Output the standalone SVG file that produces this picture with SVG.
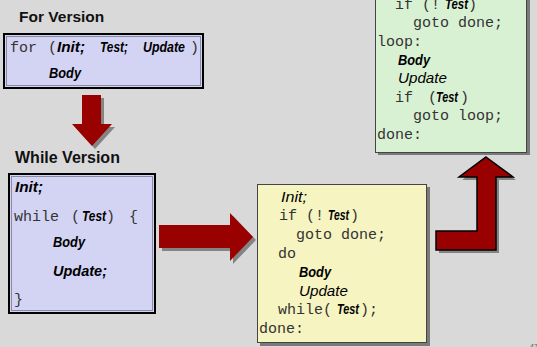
<svg xmlns="http://www.w3.org/2000/svg" width="537" height="347" viewBox="0 0 537 347">
<style>
.bg{fill:#d9d9d9}
.hdr{font-family:"Liberation Sans",Arial,sans-serif;font-weight:bold;fill:#111}
.m{font-family:"Liberation Mono","Courier New",monospace;font-size:15px;fill:#333}
.bi{font-family:"Liberation Sans",Arial,sans-serif;font-weight:bold;font-style:italic;font-size:14px;fill:#000}
.it{font-family:"Liberation Sans",Arial,sans-serif;font-style:italic;font-size:15px;fill:#000}
.lav{fill:#d3d3f3;stroke:#000;stroke-width:2}
.lavin{fill:none;stroke:#8a8aa0;stroke-width:1}
.shadow{fill:#7a7a7a}
.yel{fill:#f6f4c0;stroke:#444;stroke-width:1}
.grn{fill:#d9f1d3;stroke:#444;stroke-width:1}
.arrow{fill:#990000}
.arrowol{fill:#990000;stroke:#000;stroke-width:1.5;stroke-linejoin:miter}
.ash{fill:#6e6e6e;opacity:0.8}
</style>
<rect class="bg" x="0" y="0" width="537" height="347"/>

<g id="for-version">
  <text class="hdr" x="19" y="22" font-size="15.5">For Version</text>
  <rect class="lav" x="4" y="34" width="199" height="54"/>
  <rect class="lavin" x="6.5" y="36.5" width="194" height="49"/>
  <text class="m" x="10" y="52">for</text>
  <text class="m" x="48" y="52">(</text>
  <text class="bi" x="57" y="52" textLength="28" lengthAdjust="spacingAndGlyphs">Init;</text>
  <text class="bi" x="100" y="52" textLength="28" lengthAdjust="spacingAndGlyphs">Test;</text>
  <text class="bi" x="143" y="52" textLength="42" lengthAdjust="spacingAndGlyphs">Update</text>
  <text class="m" x="190" y="52">)</text>
  <text class="bi" x="49" y="78" textLength="32" lengthAdjust="spacingAndGlyphs">Body</text>
</g>

<g id="while-version">
  <text class="hdr" x="15" y="163" font-size="16">While Version</text>
  <rect class="lav" x="9" y="174" width="146" height="139"/>
  <rect class="lavin" x="11.5" y="176.5" width="141" height="134"/>
  <text class="bi" x="15" y="192" textLength="28" lengthAdjust="spacingAndGlyphs">Init;</text>
  <text class="m" x="14" y="221">while</text>
  <text class="m" x="71" y="221">(</text>
  <text class="bi" x="82" y="221" textLength="24" lengthAdjust="spacingAndGlyphs">Test</text>
  <text class="m" x="106" y="221">)</text>
  <text class="m" x="129" y="221">{</text>
  <text class="bi" x="53" y="247" textLength="32" lengthAdjust="spacingAndGlyphs">Body</text>
  <text class="bi" x="53" y="276" textLength="54" lengthAdjust="spacingAndGlyphs">Update;</text>
  <text class="m" x="14" y="304">}</text>
</g>

<g id="do-while-version">
  <rect class="shadow" x="260" y="187" width="170" height="159"/>
  <rect class="yel" x="257.5" y="184.5" width="169" height="158"/>
  <text class="it" x="281" y="201.5" textLength="26" lengthAdjust="spacingAndGlyphs">Init;</text>
  <text class="m" x="279" y="220.3">if (!</text>
  <text class="bi" x="328" y="220.3" textLength="21" lengthAdjust="spacingAndGlyphs">Test</text>
  <text class="m" x="350" y="220.3">)</text>
  <text class="m" x="296" y="239.1">goto done;</text>
  <text class="m" x="278" y="257.9">do</text>
  <text class="bi" x="299" y="276.7" textLength="32" lengthAdjust="spacingAndGlyphs">Body</text>
  <text class="it" x="299" y="295.5" textLength="49" lengthAdjust="spacingAndGlyphs">Update</text>
  <text class="m" x="278" y="314.3">while(</text>
  <text class="bi" x="337" y="314.3" textLength="22" lengthAdjust="spacingAndGlyphs">Test</text>
  <text class="m" x="360" y="314.3">);</text>
  <text class="m" x="259" y="333.1">done:</text>
</g>

<g id="goto-version">
  <rect class="shadow" x="378" y="-10" width="152" height="165"/>
  <rect class="grn" x="375.5" y="-12.5" width="151" height="165"/>
  <text class="m" x="395" y="8.8">if (!</text>
  <text class="bi" x="445" y="8.8" textLength="23" lengthAdjust="spacingAndGlyphs">Test</text>
  <text class="m" x="468" y="8.8">)</text>
  <text class="m" x="413" y="27.4">goto done;</text>
  <text class="m" x="377" y="46">loop:</text>
  <text class="bi" x="398" y="64.6" textLength="32" lengthAdjust="spacingAndGlyphs">Body</text>
  <text class="it" x="398" y="83.2" textLength="49" lengthAdjust="spacingAndGlyphs">Update</text>
  <text class="m" x="395" y="101.8">if</text>
  <text class="m" x="428" y="101.8">(</text>
  <text class="bi" x="436" y="101.8" textLength="22" lengthAdjust="spacingAndGlyphs">Test</text>
  <text class="m" x="460" y="101.8">)</text>
  <text class="m" x="413" y="120.4">goto loop;</text>
  <text class="m" x="377" y="139">done:</text>
</g>

<g id="connectors">
  <g transform="translate(3,3)">
    <polygon class="ash" points="82,95 101,95 101,124 112,124 92,146 72,124 82,124"/>
    <polygon class="ash" points="159,225 230,225 230,213 253,237 230,261 230,248 159,248"/>
    <polygon class="ash" points="486,157 513,177 496,177 496,250 436,250 436,231 477,231 477,177 459,177"/>
  </g>
  <polygon class="arrow" points="82,95 101,95 101,124 112,124 92,146 72,124 82,124"/>
  <polygon class="arrow" points="159,225 230,225 230,213 253,237 230,261 230,248 159,248"/>
  <polygon class="arrowol" points="486,157 513,177 496,177 496,250 436,250 436,231 477,231 477,177 459,177"/>
</g>

<text x="530" y="349" font-family="Liberation Sans,Arial,sans-serif" font-size="7" fill="#555">47</text>
</svg>
